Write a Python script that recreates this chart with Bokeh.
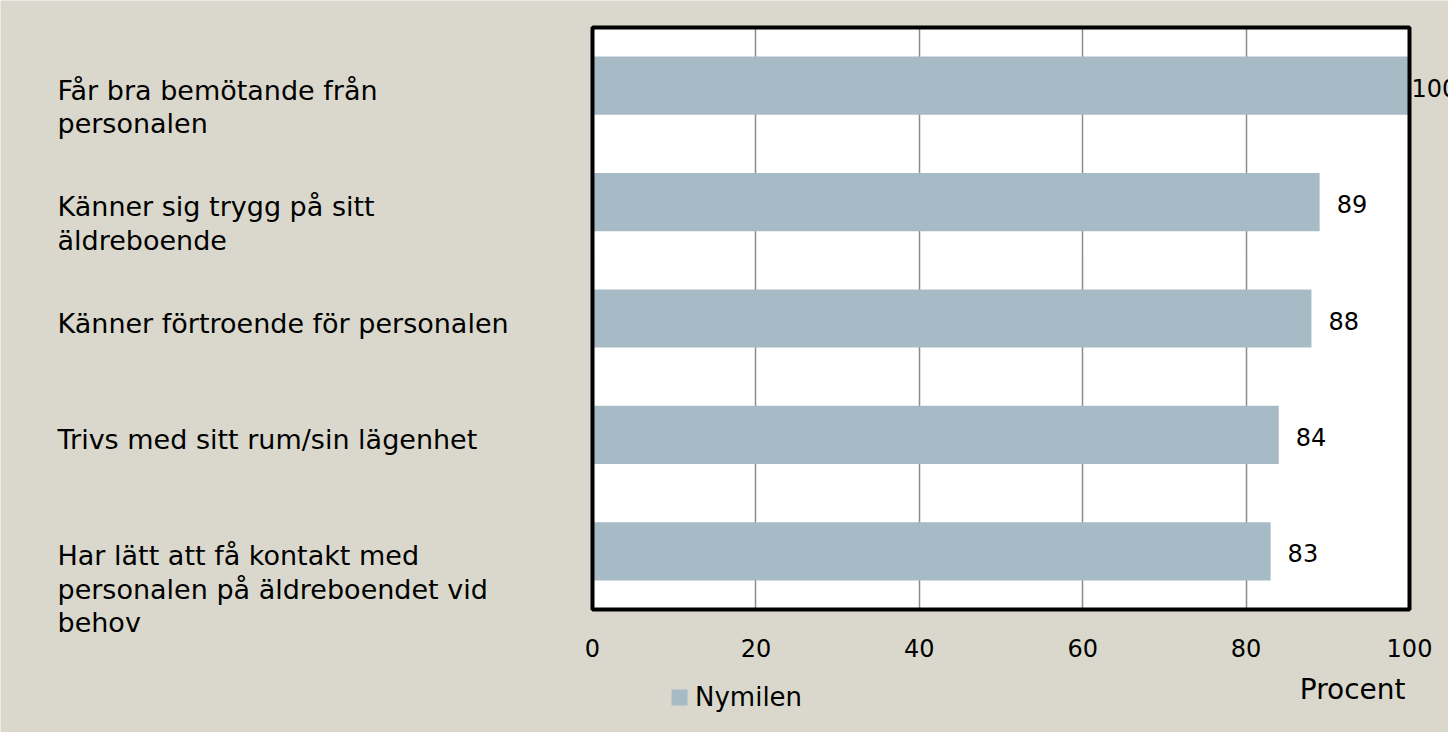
from bokeh.plotting import figure
from bokeh.models import (ColumnDataSource, LabelSet, Label, Legend, LegendItem,
                          FixedTicker, Range1d, BoxAnnotation)
from bokeh.core.properties import value
from bokeh.embed import file_html
from bokeh.resources import INLINE

categories = [
    "Får bra bemötande från\npersonalen",
    "Känner sig trygg på sitt\näldreboende",
    "Känner förtroende för personalen",
    "Trivs med sitt rum/sin lägenhet",
    "Har lätt att få kontakt med\npersonalen på äldreboendet vid\nbehov",
]
values = [100, 89, 88, 84, 83]
series_name = "Nymilen"
x_label = "Procent"
x_ticks = [0, 20, 40, 60, 80, 100]

FONT = "DejaVu Sans"
BG = "#DAD8CC"
BAR = "#A7BBC6"

# layout constants (pixels inside the figure)
W, H = 1448, 732
BOX_L, BOX_R, BOX_T, BOX_B = 592, 1409, 27, 609

n = len(categories)
x_min, x_max = x_ticks[0], x_ticks[-1]
ux = (BOX_R - BOX_L) / (x_max - x_min)
uy = (BOX_B - BOX_T) / n
xr = Range1d(x_min - BOX_L / ux, x_max + (W - BOX_R) / ux)
yr = Range1d(0 - (H - BOX_B) / uy, n + BOX_T / uy)

ypos = [n - i - 0.5 for i in range(n)]
src = ColumnDataSource(dict(
    y=ypos,
    cat=categories,
    val=values,
    txt=[str(v) for v in values],
    xoff=[2 if v >= x_max else 17 for v in values],
))

p = figure(
    width=W, height=H, x_range=xr, y_range=yr,
    output_backend="svg", toolbar_location=None,
    min_border=0, y_axis_location=None,
)
p.background_fill_color = BG
p.border_fill_color = BG
p.outline_line_color = None

# white plot area and its black frame
p.add_layout(BoxAnnotation(left=x_min, right=x_max, bottom=0, top=n,
                           fill_color="white", fill_alpha=1, line_color=None, level="image"))

r = p.hbar(y="y", left=0, right="val", height=0.5, source=src,
           fill_color=BAR, line_color=None)

p.add_layout(BoxAnnotation(left=x_min, right=x_max, bottom=0, top=n,
                           fill_alpha=0, line_color="black", line_alpha=1,
                           line_width=4, level="overlay"))

ax = p.xaxis[0]
ax.ticker = FixedTicker(ticks=x_ticks)
ax.fixed_location = 0
ax.axis_line_color = None
ax.major_tick_line_color = None
ax.minor_tick_line_color = None
ax.major_label_standoff = 23
ax.major_label_text_font = FONT
ax.major_label_text_font_size = "24px"
ax.major_label_text_color = "black"

p.xgrid.grid_line_color = "#8c8c8c"
p.xgrid.grid_line_width = 1.5
p.xgrid.cross_bounds = (0, n)
p.ygrid.grid_line_color = None

p.add_layout(LabelSet(
    x=x_min, y="y", text="cat", source=src,
    x_offset=57 - BOX_L, y_offset=11,
    text_align="left", text_baseline="top",
    text_font=value(FONT), text_font_size=value("27px"), text_color="black",
    text_line_height=1.08,
))

p.add_layout(LabelSet(
    x="val", y="y", text="txt", source=src,
    x_offset="xoff", y_offset=-2,
    text_align="left", text_baseline="middle",
    text_font=value(FONT), text_font_size=value("24px"), text_color="black",
))

p.add_layout(Label(
    x=x_max, y=0, text=x_label, x_offset=-4, y_offset=-80,
    text_align="right", text_baseline="middle",
    text_font=FONT, text_font_size="28px", text_color="black",
))

legend = Legend(items=[LegendItem(label=series_name, renderers=[r])],
                location=(669, 20), orientation="horizontal")
legend.padding = 0
legend.margin = 0
legend.background_fill_alpha = 0
legend.border_line_color = None
legend.label_text_font = FONT
legend.label_text_font_size = "26px"
legend.label_text_color = "black"
legend.glyph_width = 20
legend.glyph_height = 20
legend.label_standoff = 6
p.add_layout(legend)

open("out.html", "w").write(file_html(p, INLINE))
